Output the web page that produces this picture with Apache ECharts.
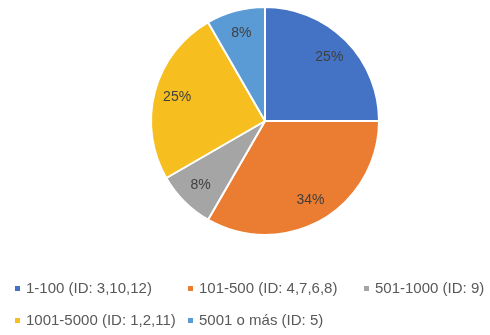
<!DOCTYPE html>
<html>
<head>
<meta charset="utf-8">
<script src="https://cdn.jsdelivr.net/npm/echarts@6/dist/echarts.min.js"></script>
<style>
  html, body { margin: 0; padding: 0; background: #fff; }
  #chart { width: 490px; height: 335px; }
</style>
</head>
<body>
<div id="chart"></div>
<script>
// categorias y numero de IDs en cada rango
var categorias = ['1-100 (ID: 3,10,12)', '101-500 (ID: 4,7,6,8)', '501-1000 (ID: 9)', '1001-5000 (ID: 1,2,11)', '5001 o más (ID: 5)'];
var cantidades = [3, 4, 1, 3, 1];
// porcentajes tal como aparecen en el grafico
var etiquetas = ['25%', '34%', '8%', '25%', '8%'];
var colores = ['#4472C4', '#EA7D31', '#A5A5A5', '#F6BE1F', '#5A9AD5'];

// posicion de cada entrada de la leyenda (dos filas)
var leyendaPos = [[13, 281], [186, 281], [362, 281], [13, 313], [186, 313]];

var datos = categorias.map(function (c, i) {
  return { name: c, value: cantidades[i] };
});

var font = 'Liberation Sans';

var leyendas = categorias.map(function (c, i) {
  return {
    data: [c],
    left: leyendaPos[i][0],
    top: leyendaPos[i][1],
    padding: 0,
    orient: 'horizontal',
    icon: 'rect',
    itemWidth: 7,
    itemHeight: 7,
    selectedMode: false,
    textStyle: { fontFamily: font, fontSize: 15, color: '#595959' }
  };
});

var option = {
  animation: false,
  color: colores,
  legend: leyendas,
  series: [{
    // el pastel
    type: 'pie',
    center: [265, 121],
    radius: [0, 114],
    startAngle: 90,
    clockwise: true,
    silent: true,
    itemStyle: { borderColor: '#fff', borderWidth: 2 },
    label: { show: false },
    labelLine: { show: false },
    data: datos
  }, {
    // solo las etiquetas, un poco mas afuera que el centro del sector
    type: 'pie',
    center: [265, 121],
    radius: [62, 114],
    startAngle: 90,
    clockwise: true,
    silent: true,
    itemStyle: { color: 'rgba(0,0,0,0)' },
    label: {
      show: true,
      position: 'inside',
      formatter: function (p) { return etiquetas[p.dataIndex]; },
      fontFamily: font,
      fontSize: 14,
      color: '#404040'
    },
    labelLine: { show: false },
    data: datos
  }]
};

var myChart = echarts.init(document.getElementById('chart'));
myChart.setOption(option);
</script>
</body>
</html>
